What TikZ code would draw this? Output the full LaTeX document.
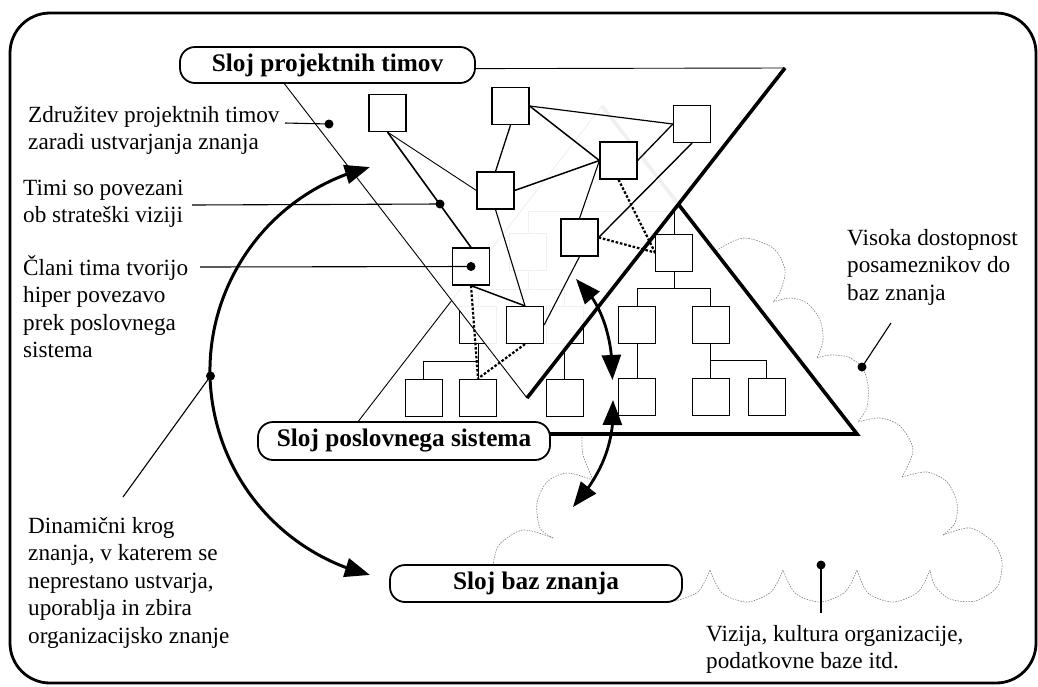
\documentclass[tikz,border=0pt]{standalone}
\usepackage{fontspec}
\setmainfont{Liberation Serif}
\usetikzlibrary{arrows.meta,bending}
\begin{document}
\begin{tikzpicture}[x=1pt,y=-1pt,
  teambox/.style={draw, fill=white, line width=1.2pt, minimum width=37pt, minimum height=37pt, inner sep=0pt},
  busbox/.style={draw, fill=white, line width=0.9pt, minimum width=37pt, minimum height=37pt, inner sep=0pt},
  layerlabel/.style={draw, fill=white, line width=1.8pt, rounded corners=15pt, inner sep=0pt, font=\fontsize{25.3}{28}\selectfont\bfseries},
  bodytext/.style={font=\fontsize{23.2}{27.6}\selectfont, align=left, inner sep=0pt, anchor=base west},
  tline/.style={line width=#1},
  dotline/.style={line width=2.2pt, dash pattern=on 2.6pt off 1.8pt},
  thinedge/.style={line width=0.9pt},
  thickedge/.style={line width=3.6pt, line join=miter},
  treeline/.style={line width=0.8pt},
  cloudline/.style={black!50, line width=0.6pt, dash pattern=on 1.5pt off 1.2pt},
  pointer/.style={line width=1.1pt},
  dotmark/.style={circle, fill=black, inner sep=0pt, minimum size=9pt},
  bigarrow/.style={line width=3pt, arrows={Triangle[length=25pt,width=19pt]-Triangle[length=25pt,width=19pt]}},
]
\useasboundingbox (0,0) rectangle (1038,686);
% frame
\draw[line width=2.8pt, rounded corners=40pt] (10,13) rectangle (1036,683);

% cloud (knowledge base layer)
\draw[cloudline] plot[smooth] coordinates {(493,566) (499,545) (523,530) (553,538)};
\draw[cloudline] plot[smooth] coordinates {(553,538) (540,528) (537,503) (547,482) (567,473) (593,480)};
\draw[cloudline] plot[smooth] coordinates {(593,480) (583,455) (582,436)};
\draw[cloudline] plot[smooth] coordinates {(714,252) (743,238) (773,248) (785,270) (780,292) (773,302)};
\draw[cloudline] plot[smooth] coordinates {(773,302) (790,298) (807,303) (820,320) (823,340) (817,358)};
\draw[cloudline] plot[smooth] coordinates {(817,358) (830,355) (848,357) (862,367) (868,385) (867,407) (858,422)};
\draw[cloudline] plot[smooth] coordinates {(858,422) (880,418) (900,426) (913,450) (902,477)};
\draw[cloudline] plot[smooth] coordinates {(902,477) (927,472) (947,482) (957,503) (955,523) (943,535)};
\draw[cloudline] plot[smooth] coordinates {(943,535) (970,528) (993,542) (1002,562) (997,587) (975,601) (950,599) (935,586) (930,570)};
\draw[cloudline] plot[smooth] coordinates {(930,570) (918,592) (893,602) (868,593) (857,570)};
\draw[cloudline] plot[smooth] coordinates {(857,570) (845,592) (820,602) (795,593) (783,570)};
\draw[cloudline] plot[smooth] coordinates {(783,570) (771,592) (747,602) (722,593) (710,570)};
\draw[cloudline] plot[smooth] coordinates {(710,570) (698,592) (675,601)};

% business system triangle
\coordinate (BA) at (602,106);
\coordinate (BR) at (857,434);
\coordinate (BL) at (348.5,434);
\fill[white] (BL) -- (BA) -- (BR) -- cycle;
\draw[thinedge] (BL) -- (BA);
\draw[thickedge] (BA) -- (BR) -- (BL);

% business hierarchy
\node[busbox] (B0) at (674,252.5) {};
\node[busbox] (BL0) at (528,252) {};
\node[busbox] (B2) at (637,324.5) {};
\node[busbox] (B3) at (710.5,324.5) {};
\node[busbox] (B4) at (478,324.5) {};
\node[busbox] (B5) at (564.5,324.5) {};
\node[busbox] (B6) at (637,397) {};
\node[busbox] (B7) at (710.5,397) {};
\node[busbox] (B8) at (766.5,397) {};
\node[busbox] (BL1) at (423.5,397.5) {};
\node[busbox] (BL2) at (478,397.5) {};
\node[busbox] (B9) at (564.5,397.5) {};
\draw[treeline] (BL0.north) -- ++(0,-22) -| (B0.north);
\draw[treeline] (B0.south) -- ++(0,17) coordinate (j1) -| (B2.north);
\draw[treeline] (j1) -| (B3.north);
\draw[treeline] (B2.south) -- (B6.north);
\draw[treeline] (B3.south) -- (B7.north);
\draw[treeline] (B3.south) -- ++(0,17) -| (B8.north);
\draw[treeline] (BL0.south) -- ++(0,18) coordinate (j2) -| (B4.north);
\draw[treeline] (j2) -| (B5.north);
\draw[treeline] (B4.south) -- (BL2.north);
\draw[treeline] (B4.south) -- ++(0,18) -| (BL1.north);
\draw[treeline] (B5.south) -- (B9.north);

% project teams triangle
\coordinate (TA) at (273,69);
\coordinate (TB) at (785,68);
\coordinate (TC) at (527,398);
\fill[white, fill opacity=0.94] (TA) -- (TB) -- (TC) -- cycle;
\draw[thinedge] (TC) -- (TA) -- (TB);
\draw[thickedge] (TB) -- (TC);

% team network
\node[teambox] (T1) at (387.5,113) {};
\node[teambox] (T2) at (510.5,106) {};
\node[teambox] (T3) at (692,124) {};
\node[teambox] (T4) at (618.5,160.5) {};
\node[teambox] (T5) at (495.5,190.5) {};
\node[teambox] (T6) at (579.5,237.5) {};
\node[teambox] (T7) at (471,266.5) {};
\node[teambox] (T8) at (525,325) {};
\draw[tline=0.9pt] (T1.south) -- (T5.west);
\draw[tline=1.6pt] (T1.south) -- (T7.north);
\draw[tline=1.3pt] (T2.south) -- (T5.north);
\draw[tline=1.2pt] (T2.east) -- (T3.west);
\draw[tline=1.5pt] (T2.east) -- (T4.west);
\draw[tline=1.5pt] (T5.east) -- (T4.west);
\draw[tline=1.3pt] (T4.east) -- (T3.west);
\draw[tline=1.1pt] (T4.west) -- (T6.north);
\draw[tline=1.4pt] (T3.south) -- (T6.east);
\draw[tline=1.1pt] (T5.south) -- (T8.north);
\draw[tline=1.5pt] (T7.south) -- (T8.north);
\draw[tline=1.1pt] (T6.south) -- (T8.east);
\draw[dotline] (T4.south) -- (B0.west);
\draw[dotline] (T6.east) -- (B0.west);
\draw[dotline] (T7.south) -- (BL2.north);
\draw[dotline] (T8.south) -- (BL2.north);

% layer labels
\node[layerlabel, minimum width=295pt, minimum height=36pt] (LP) at (327.5,65) {Sloj projektnih timov};
\node[layerlabel, minimum width=292pt, minimum height=38pt] (LS) at (404,441) {Sloj poslovnega sistema};
\node[layerlabel, minimum width=292pt, minimum height=37pt] (LB) at (536,583.5) {Sloj baz znanja};

% cycle arrows
\coordinate (CC) at (420,371);
\draw[bigarrow] ([shift={(256.2:210)}]CC) arc[start angle=256.2, end angle=103.8, radius=210];
\coordinate (m1) at (576,279);
\coordinate (m2) at (612.5,380);
\coordinate (m3) at (613,400);
\coordinate (m4) at (573,507);
\draw[bigarrow, line width=2.8pt] (m1) .. controls (603,303) and (613,340) .. (m2);
\draw[bigarrow, line width=2.8pt] (m3) .. controls (615,440) and (604,472) .. (m4);

% texts (base anchor = baseline of the last line)
\node[bodytext] (tZ) at (28,149.6) {Združitev projektnih timov\\zaradi ustvarjanja znanja};
\node[bodytext] (tT) at (23,222.6) {Timi so povezani\\ob strateški viziji};
\node[bodytext] (tC) at (23,357.8) {Člani tima tvorijo\\hiper povezavo\\prek poslovnega\\sistema};
\node[bodytext] (tD) at (28,643.4) {Dinamični krog\\znanja, v katerem se\\neprestano ustvarja,\\uporablja in zbira\\organizacijsko znanje};
\node[bodytext] (tV) at (847,300.2) {Visoka dostopnost\\posameznikov do\\baz znanja};
\node[bodytext] (tK) at (706,668.6) {Vizija, kultura organizacije,\\podatkovne baze itd.};

% pointers
\node[dotmark] (d1) at (329,124) {};
\node[dotmark] (d2) at (440,204) {};
\node[dotmark] (d3) at (T7.center) {};
\node[dotmark] (d4) at (210.5,376) {};
\node[dotmark] (d5) at (862,367) {};
\node[dotmark] (d6) at (821,565) {};
\coordinate (p1) at (285,123);
\coordinate (p2) at (192,205);
\coordinate (p3) at (200,267);
\coordinate (p4) at (123,497);
\coordinate (p5) at (891,323);
\coordinate (p6) at (821,613);
\draw[pointer] (p1) -- (d1.center);
\draw[pointer] (p2) -- (d2.center);
\draw[pointer] (p3) -- (d3.center);
\draw[pointer] (p4) -- (d4.center);
\draw[pointer] (p5) -- (d5.center);
\draw[pointer] (d6.center) -- (p6);
\end{tikzpicture}
\end{document}
